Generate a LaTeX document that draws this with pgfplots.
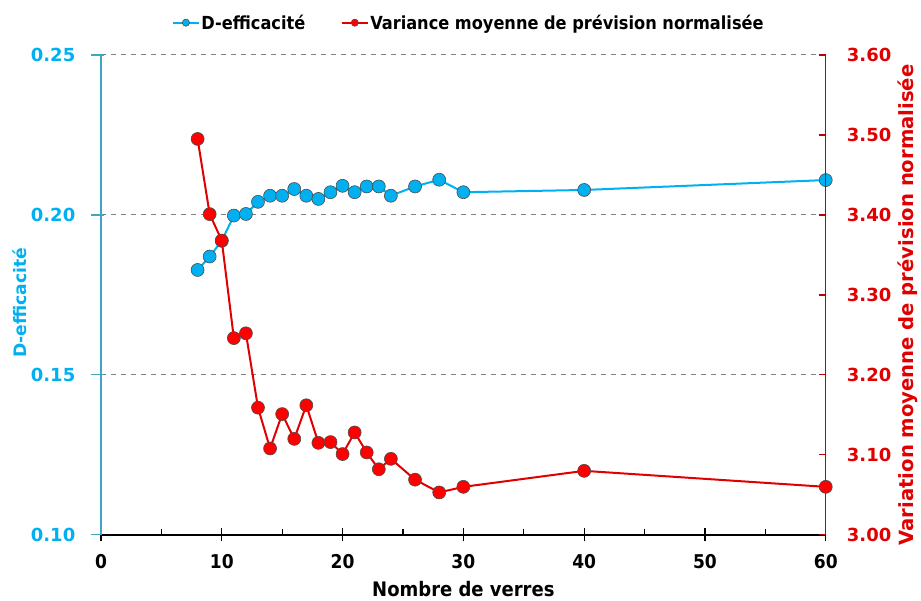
\documentclass[border=0pt]{standalone}
\usepackage{fontspec}
\setmainfont{DejaVu Sans}
\newfontfamily\condfont{DejaVu Sans Condensed}
\usepackage{pgfplots}
\pgfplotsset{compat=1.18}
\definecolor{dblue}{RGB}{0,176,240}
\definecolor{axblue}{RGB}{60,165,200}
\definecolor{dred}{RGB}{255,0,0}
\definecolor{lred}{RGB}{225,0,0}
\definecolor{axred}{RGB}{192,0,0}
\definecolor{gridgray}{RGB}{128,128,128}

\pgfplotsset{
  common/.style={
    scale only axis, width=725pt, height=480pt,
    xmin=0, xmax=60,
    /pgf/number format/assume math mode=true,
  },
  bluestyle/.style={color=dblue, line width=2pt, mark=*,
    mark size=6.5pt, mark options={fill=dblue, draw=black!70, line width=0.6pt}},
  redstyle/.style={color=lred, line width=2pt, mark=*,
    mark size=6.5pt, mark options={fill=dred, draw=black!70, line width=0.6pt}},
}

\begin{document}
\begin{tikzpicture}
% left axis: D-efficacite
\begin{axis}[
  common,
  ymin=0.10, ymax=0.25,
  axis y line*=left, axis x line*=bottom,
  tick align=center, major tick length=13pt, minor tick length=6pt,
  xtick={0,10,...,60}, minor x tick num=1,
  ytick={0.10,0.15,0.20,0.25},
  ymajorgrids,
  grid style={gridgray, line width=1pt, dash pattern=on 5pt off 5pt},
  every outer y axis line/.append style={draw=axblue, line width=1.6pt},
  x axis line style={black, line width=1.4pt},
  ytick style={axblue, line width=1.2pt, xshift=-3pt},
  xtick style={black, line width=1.2pt},
  minor x tick style={black, line width=1.2pt, yshift=3pt},
  yticklabel style={/pgf/number format/.cd, fixed, fixed zerofill, precision=2,
    /tikz/.cd, font=\bfseries\fontsize{18}{20}\selectfont, text=dblue,
    inner sep=0pt, anchor=east, xshift=-19pt},
  xticklabel style={font=\condfont\bfseries\fontsize{19}{22}\selectfont,
    inner sep=0pt, anchor=north, yshift=-13pt},
  xlabel={Nombre de verres},
  every axis x label/.style={at={(axis description cs:0.5,0)}, anchor=base,
    yshift=-62pt, font=\condfont\bfseries\fontsize{20}{22}\selectfont},
  ylabel={D-efficacité},
  every axis y label/.style={at={(axis description cs:-0.1117,0.484)},
    rotate=90, anchor=center, font=\bfseries\fontsize{17.2}{20}\selectfont, text=dblue},
]
\addplot[bluestyle] coordinates {
  (8,0.1828) (9,0.1870) (10,0.1919) (11,0.1998) (12,0.2003) (13,0.2041)
  (14,0.2060) (15,0.2060) (16,0.2081) (17,0.2060) (18,0.2050) (19,0.2071)
  (20,0.2091) (21,0.2071) (22,0.2089) (23,0.2089) (24,0.2060) (26,0.2089)
  (28,0.2110) (30,0.2071) (40,0.2078) (60,0.2109)
};
\end{axis}
% right axis: variance
\begin{axis}[
  common,
  ymin=3.0, ymax=3.6,
  axis y line*=right, axis x line=none,
  tick align=inside, major tick length=7pt,
  ytick={3.0,3.1,3.2,3.3,3.4,3.5,3.6},
  y axis line style={axred, line width=1.4pt},
  ytick style={axred, line width=1.2pt},
  yticklabel style={/pgf/number format/.cd, fixed, fixed zerofill, precision=2,
    /tikz/.cd, font=\bfseries\fontsize{18}{20}\selectfont, text=lred,
    inner sep=0pt, anchor=west, xshift=21pt},
  ylabel={Variation moyenne de prévision normalisée},
  every axis y label/.style={at={(axis description cs:1.1131,0.479)},
    rotate=90, anchor=center, font=\bfseries\fontsize{19.6}{24}\selectfont, text=lred},
  legend style={at={(axis description cs:0.0979,1.0673)}, anchor=west,
    draw=none, fill=none, inner sep=0pt, outer sep=0pt,
    nodes={inner sep=1.5pt},
    font=\condfont\bfseries\fontsize{18}{20}\selectfont,
    legend columns=2, /tikz/every even column/.append style={column sep=34pt}},
  legend image code/.code={
    \draw[mark repeat=2, mark phase=2, #1, mark size=3.6pt]
      plot coordinates {(0pt,0pt) (13pt,0pt) (26pt,0pt)};},
]
\addlegendimage{bluestyle}
\addlegendentry{D-efficacité}
\addplot[redstyle] coordinates {
  (8,3.495) (9,3.401) (10,3.368) (11,3.246) (12,3.252) (13,3.159)
  (14,3.108) (15,3.151) (16,3.120) (17,3.162) (18,3.115) (19,3.116)
  (20,3.101) (21,3.128) (22,3.103) (23,3.082) (24,3.095) (26,3.069)
  (28,3.053) (30,3.060) (40,3.080) (60,3.060)
};
\addlegendentry{Variance moyenne de prévision normalisée}
\end{axis}
\path[use as bounding box] (-101pt,-66pt) rectangle (820pt,535pt);
\end{tikzpicture}
\end{document}
